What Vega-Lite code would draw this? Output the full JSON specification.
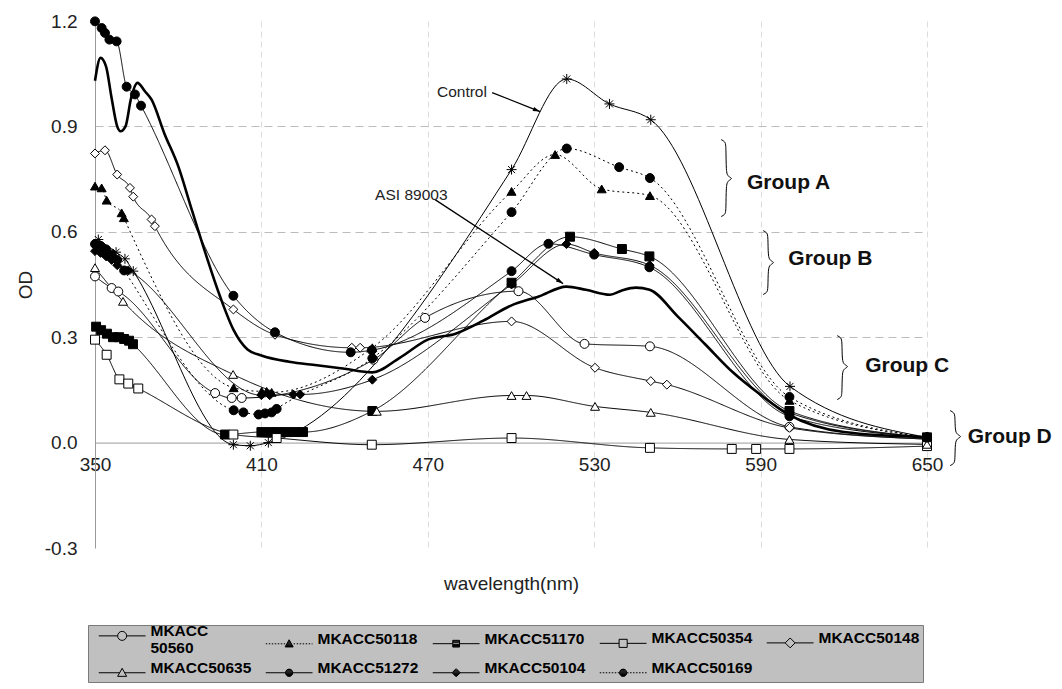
{
  "$schema": "https://vega.github.io/schema/vega-lite/v6.json",
  "width": 832,
  "height": 527,
  "autosize": "none",
  "padding": {"left": 95, "top": 21, "right": 135, "bottom": 141},
  "background": "white",
  "config": {"view": {"stroke": null}, "font": "Liberation Sans"},
  "datasets": {
    "spectra": [
      {"s": "MKACC 50560", "wl": 350, "od": 0.473}, {"s": "MKACC 50560", "wl": 356, "od": 0.44}, {"s": "MKACC 50560", "wl": 358.4, "od": 0.43}, {"s": "MKACC 50560", "wl": 393.3, "od": 0.141}, {"s": "MKACC 50560", "wl": 399.3, "od": 0.127}, {"s": "MKACC 50560", "wl": 402.9, "od": 0.127}, {"s": "MKACC 50560", "wl": 450.4, "od": 0.236}, {"s": "MKACC 50560", "wl": 469, "od": 0.355}, {"s": "MKACC 50560", "wl": 502.7, "od": 0.431}, {"s": "MKACC 50560", "wl": 526.5, "od": 0.281}, {"s": "MKACC 50560", "wl": 550.1, "od": 0.274}, {"s": "MKACC 50560", "wl": 600.4, "od": 0.045}, {"s": "MKACC 50560", "wl": 650, "od": 0.01},
      {"s": "MKACC50118", "wl": 350, "od": 0.73}, {"s": "MKACC50118", "wl": 352.4, "od": 0.725}, {"s": "MKACC50118", "wl": 354.2, "od": 0.69}, {"s": "MKACC50118", "wl": 359.6, "od": 0.654}, {"s": "MKACC50118", "wl": 360.4, "od": 0.64}, {"s": "MKACC50118", "wl": 400, "od": 0.156}, {"s": "MKACC50118", "wl": 410.1, "od": 0.146}, {"s": "MKACC50118", "wl": 411.9, "od": 0.146}, {"s": "MKACC50118", "wl": 413.7, "od": 0.143}, {"s": "MKACC50118", "wl": 450, "od": 0.27}, {"s": "MKACC50118", "wl": 500.2, "od": 0.715}, {"s": "MKACC50118", "wl": 515.9, "od": 0.82}, {"s": "MKACC50118", "wl": 532.7, "od": 0.722}, {"s": "MKACC50118", "wl": 550.1, "od": 0.703}, {"s": "MKACC50118", "wl": 600.4, "od": 0.12}, {"s": "MKACC50118", "wl": 650, "od": 0.015},
      {"s": "MKACC51170", "wl": 350.4, "od": 0.33}, {"s": "MKACC51170", "wl": 352.2, "od": 0.32}, {"s": "MKACC51170", "wl": 354.3, "od": 0.31}, {"s": "MKACC51170", "wl": 356.5, "od": 0.3}, {"s": "MKACC51170", "wl": 358.7, "od": 0.3}, {"s": "MKACC51170", "wl": 360.5, "od": 0.295}, {"s": "MKACC51170", "wl": 362.3, "od": 0.29}, {"s": "MKACC51170", "wl": 363.7, "od": 0.28}, {"s": "MKACC51170", "wl": 396.9, "od": 0.023}, {"s": "MKACC51170", "wl": 410, "od": 0.03}, {"s": "MKACC51170", "wl": 413, "od": 0.03}, {"s": "MKACC51170", "wl": 416, "od": 0.03}, {"s": "MKACC51170", "wl": 419, "od": 0.03}, {"s": "MKACC51170", "wl": 422, "od": 0.03}, {"s": "MKACC51170", "wl": 425, "od": 0.03}, {"s": "MKACC51170", "wl": 450, "od": 0.09}, {"s": "MKACC51170", "wl": 500.2, "od": 0.455}, {"s": "MKACC51170", "wl": 521.3, "od": 0.586}, {"s": "MKACC51170", "wl": 540, "od": 0.551}, {"s": "MKACC51170", "wl": 549.9, "od": 0.53}, {"s": "MKACC51170", "wl": 600.4, "od": 0.09}, {"s": "MKACC51170", "wl": 650, "od": 0.015},
      {"s": "MKACC50354", "wl": 350, "od": 0.293}, {"s": "MKACC50354", "wl": 354.2, "od": 0.25}, {"s": "MKACC50354", "wl": 358.8, "od": 0.18}, {"s": "MKACC50354", "wl": 362, "od": 0.168}, {"s": "MKACC50354", "wl": 365.6, "od": 0.154}, {"s": "MKACC50354", "wl": 399.9, "od": 0.023}, {"s": "MKACC50354", "wl": 415.5, "od": 0.013}, {"s": "MKACC50354", "wl": 449.8, "od": -0.006}, {"s": "MKACC50354", "wl": 500.2, "od": 0.013}, {"s": "MKACC50354", "wl": 550.1, "od": -0.015}, {"s": "MKACC50354", "wl": 579.6, "od": -0.018}, {"s": "MKACC50354", "wl": 588.4, "od": -0.018}, {"s": "MKACC50354", "wl": 600.4, "od": -0.018}, {"s": "MKACC50354", "wl": 650, "od": -0.01},
      {"s": "MKACC50148", "wl": 350, "od": 0.823}, {"s": "MKACC50148", "wl": 353.6, "od": 0.832}, {"s": "MKACC50148", "wl": 358, "od": 0.763}, {"s": "MKACC50148", "wl": 362.6, "od": 0.725}, {"s": "MKACC50148", "wl": 363.8, "od": 0.7}, {"s": "MKACC50148", "wl": 370.4, "od": 0.635}, {"s": "MKACC50148", "wl": 371.6, "od": 0.616}, {"s": "MKACC50148", "wl": 399.9, "od": 0.379}, {"s": "MKACC50148", "wl": 414.9, "od": 0.307}, {"s": "MKACC50148", "wl": 442.6, "od": 0.27}, {"s": "MKACC50148", "wl": 445.6, "od": 0.27}, {"s": "MKACC50148", "wl": 500.2, "od": 0.345}, {"s": "MKACC50148", "wl": 530.3, "od": 0.213}, {"s": "MKACC50148", "wl": 550.4, "od": 0.175}, {"s": "MKACC50148", "wl": 556.2, "od": 0.165}, {"s": "MKACC50148", "wl": 600.4, "od": 0.042}, {"s": "MKACC50148", "wl": 650, "od": 0.01},
      {"s": "MKACC50635", "wl": 350, "od": 0.498}, {"s": "MKACC50635", "wl": 360.1, "od": 0.402}, {"s": "MKACC50635", "wl": 399.8, "od": 0.194}, {"s": "MKACC50635", "wl": 451.6, "od": 0.089}, {"s": "MKACC50635", "wl": 500.2, "od": 0.134}, {"s": "MKACC50635", "wl": 505.6, "od": 0.134}, {"s": "MKACC50635", "wl": 530.3, "od": 0.103}, {"s": "MKACC50635", "wl": 550.4, "od": 0.086}, {"s": "MKACC50635", "wl": 600.4, "od": 0.009}, {"s": "MKACC50635", "wl": 650, "od": -0.005},
      {"s": "MKACC51272", "wl": 350, "od": 1.199}, {"s": "MKACC51272", "wl": 352.4, "od": 1.18}, {"s": "MKACC51272", "wl": 353.6, "od": 1.166}, {"s": "MKACC51272", "wl": 355.2, "od": 1.147}, {"s": "MKACC51272", "wl": 357.8, "od": 1.142}, {"s": "MKACC51272", "wl": 361.4, "od": 1.013}, {"s": "MKACC51272", "wl": 364.4, "od": 0.991}, {"s": "MKACC51272", "wl": 366.6, "od": 0.959}, {"s": "MKACC51272", "wl": 399.9, "od": 0.418}, {"s": "MKACC51272", "wl": 414.9, "od": 0.314}, {"s": "MKACC51272", "wl": 442.2, "od": 0.257}, {"s": "MKACC51272", "wl": 449.8, "od": 0.263}, {"s": "MKACC51272", "wl": 500.2, "od": 0.488}, {"s": "MKACC51272", "wl": 513.5, "od": 0.566}, {"s": "MKACC51272", "wl": 530, "od": 0.535}, {"s": "MKACC51272", "wl": 549.9, "od": 0.499}, {"s": "MKACC51272", "wl": 600.4, "od": 0.075}, {"s": "MKACC51272", "wl": 650, "od": 0.015},
      {"s": "MKACC50104", "wl": 350, "od": 0.545}, {"s": "MKACC50104", "wl": 352, "od": 0.54}, {"s": "MKACC50104", "wl": 354, "od": 0.53}, {"s": "MKACC50104", "wl": 356, "od": 0.52}, {"s": "MKACC50104", "wl": 358, "od": 0.505}, {"s": "MKACC50104", "wl": 362, "od": 0.49}, {"s": "MKACC50104", "wl": 410, "od": 0.135}, {"s": "MKACC50104", "wl": 413, "od": 0.135}, {"s": "MKACC50104", "wl": 421.5, "od": 0.137}, {"s": "MKACC50104", "wl": 424, "od": 0.137}, {"s": "MKACC50104", "wl": 450, "od": 0.179}, {"s": "MKACC50104", "wl": 500.2, "od": 0.45}, {"s": "MKACC50104", "wl": 520, "od": 0.565}, {"s": "MKACC50104", "wl": 530, "od": 0.54}, {"s": "MKACC50104", "wl": 550, "od": 0.505}, {"s": "MKACC50104", "wl": 600.4, "od": 0.085}, {"s": "MKACC50104", "wl": 650, "od": 0.015},
      {"s": "MKACC50169", "wl": 350, "od": 0.565}, {"s": "MKACC50169", "wl": 352, "od": 0.56}, {"s": "MKACC50169", "wl": 354, "od": 0.55}, {"s": "MKACC50169", "wl": 356, "od": 0.535}, {"s": "MKACC50169", "wl": 358, "od": 0.52}, {"s": "MKACC50169", "wl": 360.5, "od": 0.49}, {"s": "MKACC50169", "wl": 400, "od": 0.092}, {"s": "MKACC50169", "wl": 403.5, "od": 0.086}, {"s": "MKACC50169", "wl": 409, "od": 0.08}, {"s": "MKACC50169", "wl": 411.3, "od": 0.083}, {"s": "MKACC50169", "wl": 413.7, "od": 0.086}, {"s": "MKACC50169", "wl": 415.5, "od": 0.096}, {"s": "MKACC50169", "wl": 450, "od": 0.24}, {"s": "MKACC50169", "wl": 500.2, "od": 0.656}, {"s": "MKACC50169", "wl": 520.1, "od": 0.837}, {"s": "MKACC50169", "wl": 539, "od": 0.784}, {"s": "MKACC50169", "wl": 550.1, "od": 0.753}, {"s": "MKACC50169", "wl": 600.4, "od": 0.13}, {"s": "MKACC50169", "wl": 650, "od": 0.015},
      {"s": "Control", "wl": 351.2, "od": 0.578}, {"s": "Control", "wl": 357.6, "od": 0.542}, {"s": "Control", "wl": 360.8, "od": 0.523}, {"s": "Control", "wl": 363.8, "od": 0.488}, {"s": "Control", "wl": 399.9, "od": -0.006}, {"s": "Control", "wl": 406, "od": -0.009}, {"s": "Control", "wl": 412.5, "od": 0.0}, {"s": "Control", "wl": 500.2, "od": 0.777}, {"s": "Control", "wl": 520.1, "od": 1.035}, {"s": "Control", "wl": 535.5, "od": 0.964}, {"s": "Control", "wl": 550.4, "od": 0.919}, {"s": "Control", "wl": 600.6, "od": 0.16}, {"s": "Control", "wl": 650, "od": 0.015},
      {"s": "ASI 89003", "wl": 350, "od": 1.03}, {"s": "ASI 89003", "wl": 352, "od": 1.095}, {"s": "ASI 89003", "wl": 354, "od": 1.07}, {"s": "ASI 89003", "wl": 356, "od": 0.98}, {"s": "ASI 89003", "wl": 358, "od": 0.9}, {"s": "ASI 89003", "wl": 359.2, "od": 0.886}, {"s": "ASI 89003", "wl": 361, "od": 0.9}, {"s": "ASI 89003", "wl": 363, "od": 0.98}, {"s": "ASI 89003", "wl": 365.3, "od": 1.024}, {"s": "ASI 89003", "wl": 368, "od": 1.0}, {"s": "ASI 89003", "wl": 370.4, "od": 0.976}, {"s": "ASI 89003", "wl": 375, "od": 0.88}, {"s": "ASI 89003", "wl": 380, "od": 0.787}, {"s": "ASI 89003", "wl": 385, "od": 0.66}, {"s": "ASI 89003", "wl": 390, "od": 0.535}, {"s": "ASI 89003", "wl": 395, "od": 0.418}, {"s": "ASI 89003", "wl": 400, "od": 0.32}, {"s": "ASI 89003", "wl": 405, "od": 0.265}, {"s": "ASI 89003", "wl": 410, "od": 0.248}, {"s": "ASI 89003", "wl": 420, "od": 0.23}, {"s": "ASI 89003", "wl": 430, "od": 0.22}, {"s": "ASI 89003", "wl": 440, "od": 0.21}, {"s": "ASI 89003", "wl": 450, "od": 0.2}, {"s": "ASI 89003", "wl": 460, "od": 0.242}, {"s": "ASI 89003", "wl": 470, "od": 0.293}, {"s": "ASI 89003", "wl": 480, "od": 0.31}, {"s": "ASI 89003", "wl": 490, "od": 0.347}, {"s": "ASI 89003", "wl": 500, "od": 0.39}, {"s": "ASI 89003", "wl": 510, "od": 0.416}, {"s": "ASI 89003", "wl": 520, "od": 0.444}, {"s": "ASI 89003", "wl": 527, "od": 0.435}, {"s": "ASI 89003", "wl": 535.7, "od": 0.421}, {"s": "ASI 89003", "wl": 540, "od": 0.433}, {"s": "ASI 89003", "wl": 545, "od": 0.441}, {"s": "ASI 89003", "wl": 550, "od": 0.435}, {"s": "ASI 89003", "wl": 560, "od": 0.36}, {"s": "ASI 89003", "wl": 570, "od": 0.28}, {"s": "ASI 89003", "wl": 580, "od": 0.2}, {"s": "ASI 89003", "wl": 590, "od": 0.136}, {"s": "ASI 89003", "wl": 600, "od": 0.08}, {"s": "ASI 89003", "wl": 620, "od": 0.03}, {"s": "ASI 89003", "wl": 650, "od": 0.015}
    ],
    "notes": [
      {"t": "Control", "kind": "small", "wl": 473.3, "od": 0.999},
      {"t": "ASI 89003", "kind": "small", "wl": 451.0, "od": 0.706},
      {"t": "Group A", "kind": "group", "wl": 585.1, "od": 0.74},
      {"t": "Group B", "kind": "group", "wl": 600.0, "od": 0.523},
      {"t": "Group C", "kind": "group", "wl": 627.7, "od": 0.217},
      {"t": "Group D", "kind": "group", "wl": 664.7, "od": 0.017}
    ],
    "arrows": [
      {"a": "Control", "wl": 493.2, "od": 0.9963, "wl2": 510.48, "od2": 0.9422},
      {"a": "ASI", "wl": 472.61, "od": 0.6917, "wl2": 518.77, "od2": 0.4526}
    ],
    "braces": [
      {"g": "A", "k": 1, "wl": 575.75, "od": 0.8625}, {"g": "A", "k": 2, "wl": 577.19, "od": 0.8568}, {"g": "A", "k": 3, "wl": 577.55, "od": 0.8454}, {"g": "A", "k": 4, "wl": 577.55, "od": 0.7686}, {"g": "A", "k": 5, "wl": 578.27, "od": 0.7572}, {"g": "A", "k": 6, "wl": 580.07, "od": 0.7515}, {"g": "A", "k": 7, "wl": 578.27, "od": 0.7458}, {"g": "A", "k": 8, "wl": 577.55, "od": 0.7344}, {"g": "A", "k": 9, "wl": 577.55, "od": 0.6604}, {"g": "A", "k": 10, "wl": 577.19, "od": 0.649}, {"g": "A", "k": 11, "wl": 575.75, "od": 0.6433},
      {"g": "B", "k": 1, "wl": 590.89, "od": 0.6035}, {"g": "B", "k": 2, "wl": 592.33, "od": 0.5978}, {"g": "B", "k": 3, "wl": 592.69, "od": 0.5864}, {"g": "B", "k": 4, "wl": 592.69, "od": 0.5295}, {"g": "B", "k": 5, "wl": 593.41, "od": 0.5181}, {"g": "B", "k": 6, "wl": 595.21, "od": 0.5124}, {"g": "B", "k": 7, "wl": 593.41, "od": 0.5067}, {"g": "B", "k": 8, "wl": 592.69, "od": 0.4953}, {"g": "B", "k": 9, "wl": 592.69, "od": 0.4384}, {"g": "B", "k": 10, "wl": 592.33, "od": 0.427}, {"g": "B", "k": 11, "wl": 590.89, "od": 0.4213},
      {"g": "C", "k": 1, "wl": 617.58, "od": 0.3046}, {"g": "C", "k": 2, "wl": 619.02, "od": 0.2989}, {"g": "C", "k": 3, "wl": 619.38, "od": 0.2875}, {"g": "C", "k": 4, "wl": 619.38, "od": 0.2334}, {"g": "C", "k": 5, "wl": 620.1, "od": 0.222}, {"g": "C", "k": 6, "wl": 621.9, "od": 0.2163}, {"g": "C", "k": 7, "wl": 620.1, "od": 0.2106}, {"g": "C", "k": 8, "wl": 619.38, "od": 0.1993}, {"g": "C", "k": 9, "wl": 619.38, "od": 0.1395}, {"g": "C", "k": 10, "wl": 619.02, "od": 0.1281}, {"g": "C", "k": 11, "wl": 617.58, "od": 0.1224},
      {"g": "D", "k": 1, "wl": 658.33, "od": 0.0911}, {"g": "D", "k": 2, "wl": 659.77, "od": 0.0854}, {"g": "D", "k": 3, "wl": 660.13, "od": 0.074}, {"g": "D", "k": 4, "wl": 660.13, "od": 0.0342}, {"g": "D", "k": 5, "wl": 660.85, "od": 0.0228}, {"g": "D", "k": 6, "wl": 662.66, "od": 0.0171}, {"g": "D", "k": 7, "wl": 660.85, "od": 0.0114}, {"g": "D", "k": 8, "wl": 660.13, "od": 0.0}, {"g": "D", "k": 9, "wl": 660.13, "od": -0.0484}, {"g": "D", "k": 10, "wl": 659.77, "od": -0.0598}, {"g": "D", "k": 11, "wl": 658.33, "od": -0.0655}
    ]
  },
  "layer": [
    {
      "data": {"name": "spectra"},
      "transform": [{"filter": "datum.s != 'Control' && datum.s != 'ASI 89003'"}],
      "mark": {"type": "line", "interpolate": "monotone", "color": "black", "strokeWidth": 1},
      "encoding": {
        "x": {"field": "wl", "type": "quantitative", "scale": {"domain": [350, 650], "nice": false, "zero": false},
          "axis": {"values": [350, 410, 470, 530, 590, 650], "title": "wavelength(nm)", "offset": -105.4, "ticks": false, "labelPadding": 13, "labelFontSize": 19, "labelColor": "#222", "labelFont": "Liberation Sans", "labelFlush": false, "labelOverlap": false, "titleFont": "Liberation Sans", "titleFontSize": 19, "titleFontWeight": "normal", "titleColor": "#222", "titlePadding": 100, "domainColor": "#9a9a9a", "grid": true, "gridColor": {"condition": {"test": "datum.value > 351", "value": "#dcdcdc"}, "value": "transparent"}, "gridDash": [6, 4]}},
        "y": {"field": "od", "type": "quantitative", "scale": {"domain": [-0.3, 1.2], "nice": false, "zero": false},
          "axis": {"values": [-0.3, 0, 0.3, 0.6, 0.9, 1.2], "labelExpr": "datum.value < 0 ? '-' + format(-datum.value, '.1f') : format(datum.value, '.1f')", "title": "OD", "ticks": false, "labelPadding": 18, "labelFontSize": 19, "labelColor": "#222", "labelFont": "Liberation Sans", "titleFont": "Liberation Sans", "titleFontSize": 19, "titleFontWeight": "normal", "titleColor": "#222", "titlePadding": 9, "domainColor": "#9a9a9a", "grid": true, "gridColor": {"condition": {"test": "datum.value > 0.1 && datum.value < 1.0", "value": "#bcbcbc"}, "value": "transparent"}, "gridDash": [8, 5]}},
        "detail": {"field": "s", "type": "nominal"},
        "strokeDash": {"field": "s", "type": "nominal", "legend": null,
          "scale": {"domain": ["MKACC 50560", "MKACC50118", "MKACC51170", "MKACC50354", "MKACC50148", "MKACC50635", "MKACC51272", "MKACC50104", "MKACC50169"],
            "range": [[1, 0], [2, 3], [1, 0], [1, 0], [1, 0], [1, 0], [1, 0], [1, 0], [2, 3]]}}
      }
    },
    {
      "data": {"name": "spectra"},
      "transform": [{"filter": "datum.s == 'Control'"}],
      "mark": {"type": "line", "interpolate": "monotone", "color": "black", "strokeWidth": 1},
      "encoding": {
        "x": {"field": "wl", "type": "quantitative"},
        "y": {"field": "od", "type": "quantitative"}
      }
    },
    {
      "data": {"name": "spectra"},
      "transform": [{"filter": "datum.s == 'ASI 89003'"}],
      "mark": {"type": "line", "interpolate": "monotone", "color": "black", "strokeWidth": 2.6},
      "encoding": {
        "x": {"field": "wl", "type": "quantitative"},
        "y": {"field": "od", "type": "quantitative"}
      }
    },
    {
      "data": {"name": "spectra"},
      "transform": [{"filter": "datum.s != 'Control' && datum.s != 'ASI 89003'"}],
      "mark": {"type": "point", "opacity": 1, "stroke": "black", "strokeWidth": 1, "size": 80},
      "encoding": {
        "x": {"field": "wl", "type": "quantitative"},
        "y": {"field": "od", "type": "quantitative"},
        "shape": {"field": "s", "type": "nominal", "legend": null,
          "scale": {"domain": ["MKACC 50560", "MKACC50118", "MKACC51170", "MKACC50354", "MKACC50148", "MKACC50635", "MKACC51272", "MKACC50104", "MKACC50169"],
            "range": ["circle", "triangle-up", "square", "square", "diamond", "triangle-up", "circle", "diamond", "circle"]}},
        "fill": {"field": "s", "type": "nominal", "legend": null,
          "scale": {"domain": ["MKACC 50560", "MKACC50118", "MKACC51170", "MKACC50354", "MKACC50148", "MKACC50635", "MKACC51272", "MKACC50104", "MKACC50169"],
            "range": ["white", "black", "black", "white", "white", "white", "black", "black", "black"]}}
      }
    },
    {
      "data": {"name": "spectra"},
      "transform": [{"filter": "datum.s == 'Control'"}],
      "mark": {"type": "point", "shape": "M-1,0L1,0M0,-1L0,1M-0.7,-0.7L0.7,0.7M-0.7,0.7L0.7,-0.7", "size": 100, "opacity": 1, "filled": false, "stroke": "black", "strokeWidth": 1},
      "encoding": {
        "x": {"field": "wl", "type": "quantitative"},
        "y": {"field": "od", "type": "quantitative"}
      }
    },
    {
      "data": {"name": "braces"},
      "mark": {"type": "line", "interpolate": "basis", "color": "black", "strokeWidth": 1},
      "encoding": {
        "x": {"field": "wl", "type": "quantitative"},
        "y": {"field": "od", "type": "quantitative"},
        "detail": {"field": "g", "type": "nominal"},
        "order": {"field": "k", "type": "quantitative"}
      }
    },
    {
      "data": {"name": "arrows"},
      "mark": {"type": "rule", "color": "black", "strokeWidth": 1.3},
      "encoding": {
        "x": {"field": "wl", "type": "quantitative"},
        "y": {"field": "od", "type": "quantitative"},
        "x2": {"field": "wl2"},
        "y2": {"field": "od2"}
      }
    },
    {
      "data": {"name": "arrows"},
      "transform": [{"filter": "datum.a == 'Control'"}],
      "mark": {"type": "point", "shape": "M0,0L0.75,2.4L-0.75,2.4Z", "size": 36, "angle": 110.9, "filled": true, "color": "black", "opacity": 1},
      "encoding": {
        "x": {"field": "wl2", "type": "quantitative"},
        "y": {"field": "od2", "type": "quantitative"}
      }
    },
    {
      "data": {"name": "arrows"},
      "transform": [{"filter": "datum.a == 'ASI'"}],
      "mark": {"type": "point", "shape": "M0,0L0.75,2.4L-0.75,2.4Z", "size": 36, "angle": 123.3, "filled": true, "color": "black", "opacity": 1},
      "encoding": {
        "x": {"field": "wl2", "type": "quantitative"},
        "y": {"field": "od2", "type": "quantitative"}
      }
    },
    {
      "data": {"name": "notes"},
      "transform": [{"filter": "datum.kind == 'small'"}],
      "mark": {"type": "text", "align": "left", "baseline": "middle", "font": "Liberation Sans", "fontSize": 15.5, "color": "#222"},
      "encoding": {
        "x": {"field": "wl", "type": "quantitative"},
        "y": {"field": "od", "type": "quantitative"},
        "text": {"field": "t", "type": "nominal"}
      }
    },
    {
      "data": {"name": "notes"},
      "transform": [{"filter": "datum.kind == 'group'"}],
      "mark": {"type": "text", "align": "left", "baseline": "middle", "font": "Liberation Sans", "fontSize": 21, "fontWeight": "bold", "color": "#111"},
      "encoding": {
        "x": {"field": "wl", "type": "quantitative"},
        "y": {"field": "od", "type": "quantitative"},
        "text": {"field": "t", "type": "nominal"}
      }
    },
    {
      "data": {"name": "spectra"},
      "transform": [{"filter": "datum.od > 50"}],
      "mark": {"type": "point", "opacity": 1, "stroke": "black", "strokeWidth": 1, "filled": false},
      "encoding": {
        "x": {"field": "wl", "type": "quantitative"},
        "y": {"field": "od", "type": "quantitative"},
        "shape": {"field": "s", "type": "nominal",
          "scale": {"domain": ["MKACC 50560", "MKACC50118", "MKACC51170", "MKACC50354", "MKACC50148", "MKACC50635", "MKACC51272", "MKACC50104", "MKACC50169"],
            "range": [
              "M0,0L4.2,0M6.2,0L10.4,0M6.2,0C6.2,0.552 5.752,1 5.2,1C4.648,1 4.2,0.552 4.2,0C4.2,-0.552 4.648,-1 5.2,-1C5.752,-1 6.2,-0.552 6.2,0Z",
              "M0,0L0.33,0M0.67,0L1,0M1.33,0L1.67,0M2,0L2.33,0M2.67,0L3,0M3.33,0L3.67,0M4,0L4.3,0M6.2,0L6.5,0M6.87,0L7.2,0M7.53,0L7.87,0M8.2,0L8.53,0M8.87,0L9.2,0M9.53,0L9.87,0M10.2,0L10.4,0M5.031,-0.6L5.369,-0.6M4.919,-0.4L5.481,-0.4M4.806,-0.2L5.594,-0.2M4.694,0L5.706,0M4.581,0.2L5.819,0.2M4.469,0.4L5.931,0.4M4.356,0.6L6.044,0.6M5.2,-0.9L6.1,0.7L4.3,0.7Z",
              "M0,0L4.45,0M5.95,0L10.4,0M4.45,-0.6L5.95,-0.6M4.45,-0.4L5.95,-0.4M4.45,-0.2L5.95,-0.2M4.45,0.2L5.95,0.2M4.45,0.4L5.95,0.4M4.45,0.6L5.95,0.6M4.45,-0.75L5.95,-0.75L5.95,0.75L4.45,0.75Z",
              "M0,0L4.3,0M6.1,0L10.4,0M4.3,-0.9L6.1,-0.9L6.1,0.9L4.3,0.9Z",
              "M0,0L4.1,0M6.3,0L10.4,0M5.2,-1.1L6.3,0L5.2,1.1L4.1,0Z",
              "M0,0L4.64,0M5.76,0L10.4,0M5.2,-1L6.2,0.8L4.2,0.8Z",
              "M0,0L10.4,0M4.813,-0.7L5.587,-0.7M4.671,-0.6L5.729,-0.6M4.507,-0.4L5.893,-0.4M4.425,-0.2L5.975,-0.2M4.425,0.2L5.975,0.2M4.507,0.4L5.893,0.4M4.671,0.6L5.729,0.6M4.813,0.7L5.587,0.7M6,0C6,0.442 5.642,0.8 5.2,0.8C4.758,0.8 4.4,0.442 4.4,0C4.4,-0.442 4.758,-0.8 5.2,-0.8C5.642,-0.8 6,-0.442 6,0Z",
              "M0,0L10.4,0M4.9,-0.6L5.5,-0.6M4.7,-0.4L5.7,-0.4M4.5,-0.2L5.9,-0.2M4.5,0.2L5.9,0.2M4.7,0.4L5.7,0.4M4.9,0.6L5.5,0.6M5.2,-0.9L6.1,0L5.2,0.9L4.3,0Z",
              "M0,0L0.33,0M0.67,0L1,0M1.33,0L1.67,0M2,0L2.33,0M2.67,0L3,0M3.33,0L3.67,0M4,0L4.33,0M6.07,0L6.4,0M6.73,0L7.07,0M7.4,0L7.73,0M8.07,0L8.4,0M8.73,0L9.07,0M9.4,0L9.73,0M10.07,0L10.4,0M4.4,0L6,0M4.813,-0.7L5.587,-0.7M4.671,-0.6L5.729,-0.6M4.507,-0.4L5.893,-0.4M4.425,-0.2L5.975,-0.2M4.425,0.2L5.975,0.2M4.507,0.4L5.893,0.4M4.671,0.6L5.729,0.6M4.813,0.7L5.587,0.7M6,0C6,0.442 5.642,0.8 5.2,0.8C4.758,0.8 4.4,0.442 4.4,0C4.4,-0.442 4.758,-0.8 5.2,-0.8C5.642,-0.8 6,-0.442 6,0Z"
            ]},
          "legend": {"title": null, "orient": "none", "legendX": -7, "legendY": 604, "columns": 5, "direction": "horizontal", "fillColor": "#c0c0c0", "strokeColor": "#7a7a7a", "padding": 3, "symbolSize": 81, "symbolStrokeWidth": 1, "symbolStrokeColor": "black", "symbolOpacity": 1, "labelOffset": 44, "labelFont": "Liberation Sans", "labelFontSize": 15.5, "labelFontWeight": "bold", "labelColor": "black", "labelLimit": 200, "columnPadding": 6, "rowPadding": 3, "labelBaseline": "alphabetic", "labelExpr": "datum.label == 'MKACC 50560' ? ['MKACC', '50560'] : datum.label",
            "encode": {"symbols": {
              "fill": {"value": {"expr": "test(/50118|51170|51272|50104|50169/, '' + datum.value) ? 'black' : 'white'"}},
              "stroke": {"value": "black"},
              "strokeWidth": {"value": 1},
              "opacity": {"value": 1}}}}}
      }
    }
  ],
  "resolve": {"scale": {"shape": "independent"}}
}
